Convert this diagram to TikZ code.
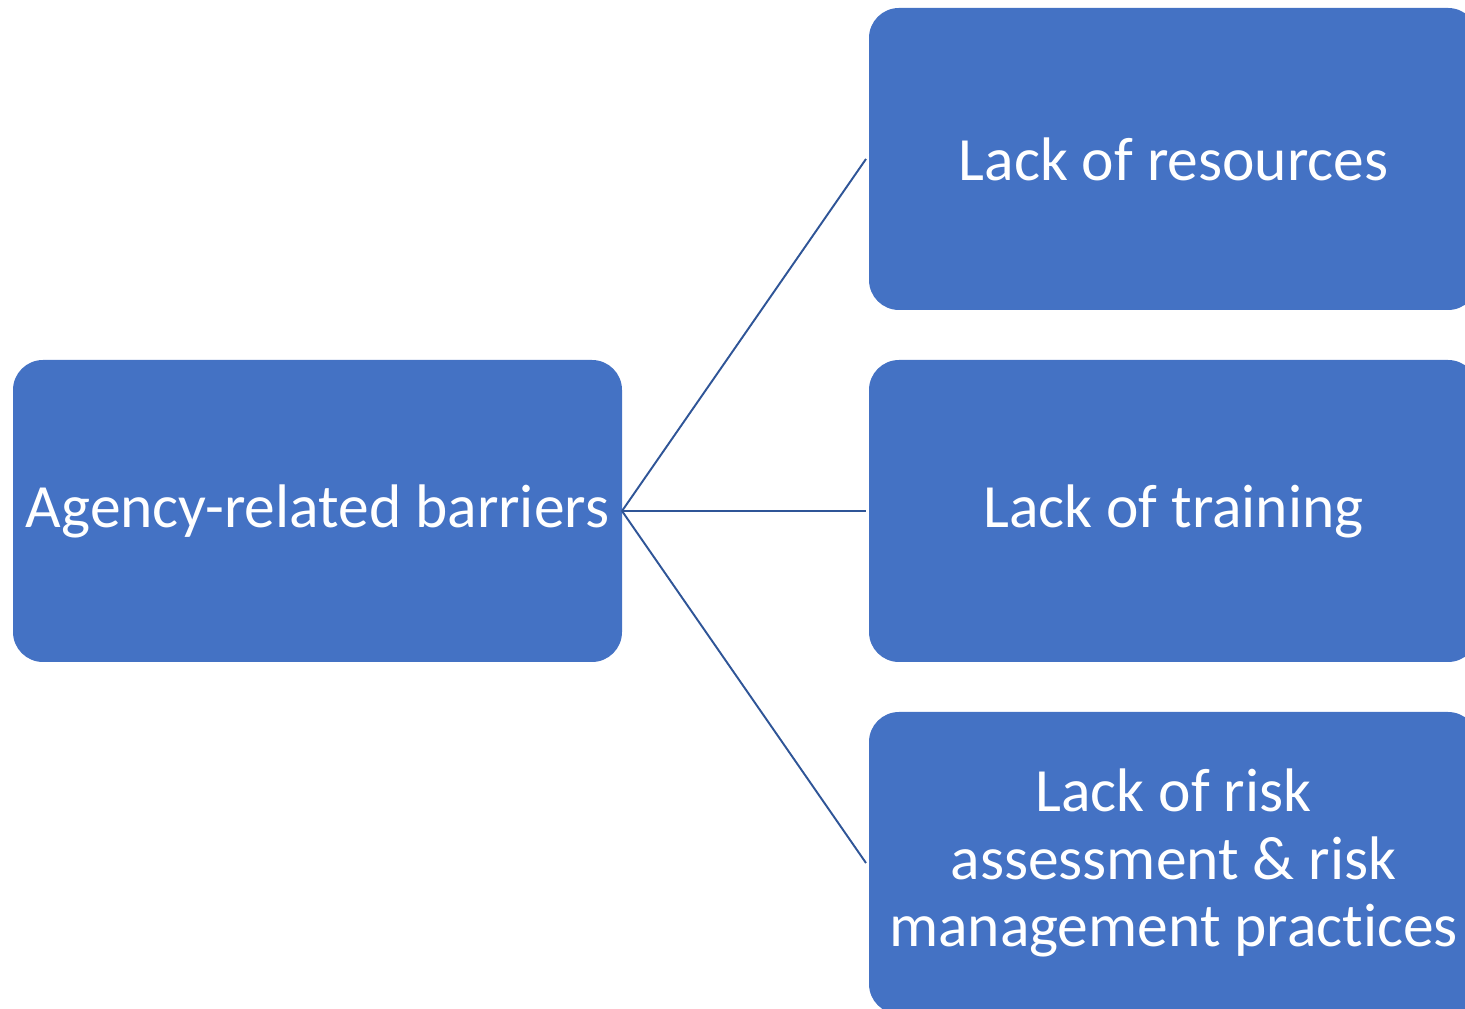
\documentclass[tikz,border=0pt]{standalone}
\usepackage{fontspec}
\setmainfont[Ligatures=NoCommon]{Carlito}
\usetikzlibrary{calc,positioning}

\definecolor{boxblue}{HTML}{4472C4}
\definecolor{linkblue}{HTML}{2F5597}

\begin{document}
\begin{tikzpicture}[every node/.style={outer sep=0pt}]
\tikzset{
    box/.style  = {fill=boxblue,draw=none,rounded corners=0.6cm,minimum width=12.18cm,
                   minimum height=6.04cm,text=white,align=center,
                   font=\fontsize{35}{38.6}\selectfont},
    link/.style = {draw=linkblue,line width=1.1pt}
}

\useasboundingbox (0,0) rectangle (29.3,20.18);
\clip (0,0) rectangle (29.3,20.18);

%% root box on the left
\node (agency) [box] at (6.35,9.96) {\raisebox{-2pt}{Agency-related barriers}};

%% the three barriers on the right
\node (resources) [box] at (23.47,17.0) {\raisebox{-2pt}{Lack of resources}};
\node (training)  [box] at (23.47,9.96) {\raisebox{-2pt}{Lack of training}};
\node (risk)      [box] at (23.47,2.92) {Lack of risk\\assessment \& risk\\management practices};

%% connectors
\draw [link] (agency.east) -- ([xshift=-0.06cm]resources.west);
\draw [link] (agency.east) -- ([xshift=-0.06cm]training.west);
\draw [link] (agency.east) -- ([xshift=-0.06cm]risk.west);

\end{tikzpicture}
\end{document}
